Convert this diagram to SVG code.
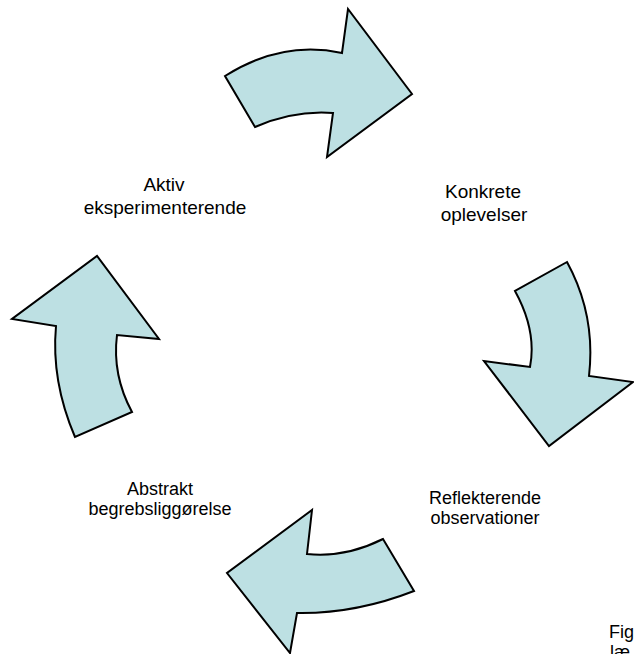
<svg xmlns="http://www.w3.org/2000/svg" width="634" height="654" viewBox="0 0 634 654">
<style>
.arrow{fill:#bde0e3;stroke:#000;stroke-width:2;stroke-linejoin:miter}
.lbl{font-family:"Liberation Sans",Arial,sans-serif;fill:#000;text-anchor:middle}
.big{font-size:19px}
.small{font-size:18px}
.cap{font-family:"Liberation Sans",Arial,sans-serif;font-size:18px;fill:#000}
</style>
<rect width="634" height="654" fill="#fff"/>
<g id="connectors">
<path id="arrow-top" class="arrow" d="M225,76 Q282,40 342,53 L348,9 L412,94 L327,157 L333,113 Q294,110 255,127 Z"/>
<path id="arrow-right" class="arrow" d="M567,262 Q596,315 589,376 L633,382 L549,446 L484,361 L530,367 Q537,331 515,291 Z"/>
<path id="arrow-bottom" class="arrow" d="M414,591 Q355,614 297,613 L290,653 L227,573 L312,510 L307,554 Q345,558 383,539 Z"/>
<path id="arrow-left" class="arrow" d="M75,437 Q51,381 56,326 L12,319 L97,256 L159,339 L117,335 Q112,375 132,412 Z"/>
</g>
<g id="node-aktiv" class="lbl big"><text x="164" y="191">Aktiv</text><text x="165" y="214">eksperimenterende</text></g>
<g id="node-konkrete" class="lbl big"><text x="483" y="198">Konkrete</text><text x="484" y="221">oplevelser</text></g>
<g id="node-reflekterende" class="lbl small"><text x="485" y="504">Reflekterende</text><text x="485" y="524">observationer</text></g>
<g id="node-abstrakt" class="lbl small"><text x="160" y="495">Abstrakt</text><text x="160" y="515">begrebsliggørelse</text></g>
<g id="caption"><text class="cap" x="609" y="638">Fig</text><text class="cap" x="610" y="658">læ</text></g>
</svg>
